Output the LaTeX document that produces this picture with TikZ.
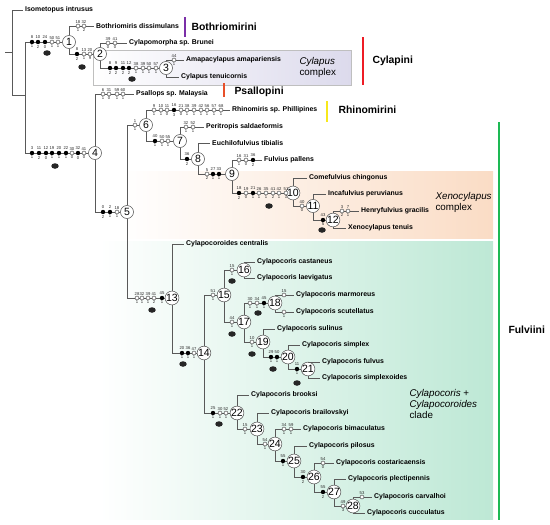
\documentclass[tikz,border=0pt]{standalone}
\usepackage{fontspec}
\setmainfont{Liberation Sans}
\usetikzlibrary{shapes.geometric}

\definecolor{lavbox}{HTML}{DCDAEC}
\definecolor{peachbox}{HTML}{FADCC5}
\definecolor{mintbox}{HTML}{BDE8D5}
\definecolor{tribepurple}{HTML}{7B2FA8}
\definecolor{tribered}{HTML}{EE1C25}
\definecolor{tribeorange}{HTML}{E8502A}
\definecolor{tribeyellow}{HTML}{F7E81C}
\definecolor{tribegreen}{HTML}{1DB954}

\tikzset{
  br/.style={draw=black!65, line width=.55pt},
  hnode/.style={circle, draw=black!70, fill=white, line width=.5pt, inner sep=0pt,
    minimum size=13pt, font=\fontsize{10.5}{10.5}\selectfont},
  taxon/.style={anchor=west, inner xsep=2pt, inner ysep=1pt, font=\bfseries\fontsize{6.9}{7}\selectfont},
  chopen/.style={circle, draw=black!80, fill=white, line width=.4pt, inner sep=0pt,
    minimum size=4pt, label distance=.6pt},
  chfill/.style={circle, fill=black, inner sep=0pt, minimum size=4.4pt, label distance=.4pt},
  num/.style={font=\fontsize{4.2}{4.2}\selectfont, inner sep=.5pt, text=black!85},
  boot/.style={ellipse, fill=black!85, inner sep=0pt, minimum width=7.5pt, minimum height=5.5pt},
  tribe/.style={anchor=west, font=\bfseries\fontsize{10.4}{11}\selectfont},
  bar/.style={line width=1.8pt},
  grp/.style={align=left, anchor=west, font=\fontsize{9.8}{11}\selectfont}
}

% character changes on one branch: #1 = y of the branch, #2 = x/above/below/kind
\newcommand{\chars}[2]{%
  \foreach \x/\a/\b/\k in {#2}
    \node[\k, label={[num]above:\a}, label={[num]below:\b}] (c\x-#1) at (\x,#1) {};
}

\begin{document}
\begin{tikzpicture}[x=1pt,y=-1pt]
  \useasboundingbox (0,0) rectangle (550,525);
  % Shade the group boxes
  \shadedraw[left color=white, right color=lavbox, draw=black!25] (93,50) rectangle (351,85);
  \shade[left color=white, right color=peachbox] (120,171) rectangle (493,238);
  \shade[left color=white, right color=mintbox] (100,241) rectangle (493,519);
  % Place the numbered nodes
  \foreach \n/\x/\y in {1/69/42, 2/100/54, 3/166/68, 4/95/153, 5/127/212, 6/146/125,
      7/180/141, 8/198/159, 9/232/174, 10/293/193, 11/313/206, 12/333/220, 13/172/298,
      14/204/353, 15/224/295, 16/244/270, 17/244/322, 18/275/303, 19/263/342, 20/288/357,
      21/308/369, 22/237/413, 23/257/429, 24/275/444, 25/294/461, 26/314/477, 27/334/492,
      28/353/506}
    \node[hnode] (n\n) at (\x,\y) {\n};
  % Place the taxa
  \foreach \t/\x/\y/\name in {isom/25/10/Isometopus intrusus, bdis/96/26/Bothriomiris dissimulans,
      cbru/129/43/Cylapomorpha sp. Brunei, aama/186/60/Amapacylapus amapariensis,
      cten/181/77/Cylapus tenuicornis, psal/136/94/Psallops sp. Malaysia,
      rhin/232/110/Rhinomiris sp. Phillipines, psai/206/127/Peritropis saldaeformis,
      etib/212/143/Euchilofulvius tibialis, fpal/264/160/Fulvius pallens,
      cchi/309/178/Comefulvius chingonus, iper/328/194/Incafulvius peruvianus,
      hgra/361/211/Henryfulvius gracilis, xten/348/228/Xenocylapus tenuis,
      ccen/186/244/Cylapocoroides centralis, ccas/257/262/Cylapocoris castaneus,
      clae/257/278/Cylapocoris laevigatus, cmar/296/295/Cylapocoris marmoreus,
      cscu/296/312/Cylapocoris scutellatus, csul/277/329/Cylapocoris sulinus,
      csim/302/345/Cylapocoris simplex, cful/322/362/Cylapocoris fulvus,
      csix/322/378/Cylapocoris simplexoides, cbro/251/395/Cylapocoris brooksi,
      cbra/271/413/Cylapocoris brailovskyi, cbim/303/429/Cylapocoris bimaculatus,
      cpil/309/446/Cylapocoris pilosus, ccos/336/463/Cylapocoris costaricaensis,
      cple/348/479/Cylapocoris plectipennis, ccar/374/497/Cylapocoris carvalhoi,
      ccuc/367/513/Cylapocoris cucculatus}
    \node[taxon] (\t) at (\x-2,\y) {\name};
  \coordinate (base) at (5,52);
  \coordinate (root) at (12,52);
  \coordinate (r2) at (25,95);
  % Draw the branches
  \draw[br] (base) -- (root);
  \foreach \a/\b in {root/isom, root/r2, r2/n1, r2/n4, n1/bdis, n1/n2, n2/cbru, n2/n3,
      n3/aama, n3/cten, n4/psal, n4/n5, n5/n6, n5/n13, n6/rhin, n6/n7, n7/psai, n7/n8,
      n8/etib, n8/n9, n9/fpal, n9/n10, n10/cchi, n10/n11, n11/iper, n11/n12, n12/hgra,
      n12/xten, n13/ccen, n13/n14, n14/n15, n14/n22, n15/n16, n15/n17, n16/ccas, n16/clae,
      n17/n18, n17/n19, n18/cmar, n18/cscu, n19/csul, n19/n20, n20/csim, n20/n21,
      n21/cful, n21/csix, n22/cbro, n22/n23, n23/cbra, n23/n24, n24/cbim, n24/n25,
      n25/cpil, n25/n26, n26/ccos, n26/n27, n27/cple, n27/n28, n28/ccar, n28/ccuc}
    \draw[br] (\a) |- (\b);
  % Draw the character changes
  \chars{42}{32/8/1/chfill, 38/10/2/chfill, 45/24/0/chfill, 52/50/1/chopen, 58/51/1/chopen}
  \chars{26}{78/18/1/chopen, 84/32/2/chopen}
  \chars{54}{77/8/2/chfill, 84/13/1/chopen, 90/20/9/chopen}
  \chars{43}{108/39/0/chopen, 115/41/0/chopen}
  \chars{68}{110/8/2/chfill, 116/9/2/chfill, 123/11/2/chfill, 129/12/2/chfill,
    136/38/1/chopen, 143/39/1/chopen, 149/50/1/chopen, 156/57/1/chopen}
  \chars{60}{174/44/1/chopen}
  \chars{153}{32/3/1/chfill, 39/11/2/chfill, 46/12/0/chfill, 52/19/1/chfill, 59/20/1/chfill,
    66/22/1/chfill, 72/30/0/chopen, 78/32/0/chfill, 84/41/0/chopen}
  \chars{94}{103/6/1/chopen, 109/31/0/chopen, 117/59/1/chopen, 123/60/1/chopen}
  \chars{212}{103/0/2/chfill, 110/2/1/chfill, 117/18/1/chopen}
  \chars{125}{135/1/1/chopen}
  \chars{110}{154/9/1/chopen, 161/10/1/chopen, 167/11/0/chopen, 174/16/3/chfill,
    181/21/0/chopen, 187/38/1/chopen, 194/39/1/chopen, 201/42/1/chopen, 207/56/1/chopen,
    214/57/1/chopen, 221/68/1/chopen}
  \chars{141}{155/40/1/chfill, 162/50/1/chopen, 168/55/1/chopen}
  \chars{127}{186/32/1/chopen, 193/52/1/chopen}
  \chars{159}{187/36/2/chfill}
  \chars{174}{207/5/2/chopen, 213/27/1/chfill, 219/33/1/chfill}
  \chars{160}{239/16/1/chopen, 246/31/0/chopen, 253/36/2/chfill}
  \chars{193}{239/18/2/chfill, 246/19/0/chopen, 253/21/1/chfill, 259/26/1/chopen,
    266/35/1/chopen, 273/41/2/chopen, 279/42/1/chopen, 286/51/1/chopen}
  \chars{206}{302/40/0/chopen}
  \chars{220}{323/43/5/chfill}
  \chars{211}{342/3/2/chopen, 348/7/1/chopen}
  \chars{298}{137/28/1/chopen, 142/32/1/chopen, 148/39/1/chopen, 154/41/2/chopen, 162/45/1/chfill}
  \chars{353}{182/20/1/chfill, 188/36/1/chfill, 194/47/1/chopen}
  \chars{295}{213/51/1/chopen}
  \chars{413}{213/25/1/chfill, 220/30/1/chopen, 226/52/1/chopen}
  \chars{270}{232/15/1/chopen}
  \chars{322}{232/44/1/chopen}
  \chars{303}{250/30/1/chopen, 257/34/1/chopen, 264/45/1/chfill}
  \chars{342}{252/10/1/chopen}
  \chars{357}{271/29/1/chfill, 277/50/1/chfill}
  \chars{369}{297/11/1/chfill}
  \chars{429}{245/15/1/chopen, 284/34/1/chopen, 291/59/1/chopen}
  \chars{444}{265/54/1/chopen}
  \chars{461}{283/55/1/chfill}
  \chars{477}{303/30/2/chfill}
  \chars{463}{323/54/0/chopen}
  \chars{492}{323/55/2/chfill}
  \chars{506}{343/49/3/chopen}
  \chars{497}{362/53/{}/chopen}
  \node[chopen, label={[num]above:15}] (cmk) at (284,295) {};
  \node[chopen, label={[num]below:1}] (csk) at (284,312) {};
  % Draw the bootstrap ovals
  \foreach \x/\y [count=\i] in {47/53, 82/67, 132/79, 55/166, 269/206, 322/230, 152/310,
      183/364, 219/424, 232/281, 232/334, 258/313, 252/354, 273/369, 297/383}
    \node[boot] (s\i) at (\x,\y) {};
  % Draw the tribe bars and names
  \draw[bar, tribepurple] (185,17) -- (185,37);
  \node[tribe] (tbot) at (188,27) {Bothriomirini};
  \draw[bar, tribered] (363,37) -- (363,85);
  \node[tribe] (tcyl) at (369,61) {Cylapini};
  \draw[bar, tribeorange] (224,83) -- (224,97);
  \node[tribe] (tpsa) at (231,92) {Psallopini};
  \draw[bar, tribeyellow] (327,101) -- (327,122);
  \node[tribe] (trhi) at (335,110) {Rhinomirini};
  \draw[bar, tribegreen] (499,122) -- (499,520);
  \node[tribe] (tful) at (505,330) {Fulviini};
  % Name the groups
  \node[grp] (gcyl) at (296,67) {\textit{Cylapus}\\complex};
  \node[grp] (gxen) at (432,202) {\textit{Xenocylapus}\\complex};
  \node[grp] (gcla) at (406,404) {\textit{Cylapocoris} +\\\textit{Cylapocoroides}\\clade};
\end{tikzpicture}
\end{document}
